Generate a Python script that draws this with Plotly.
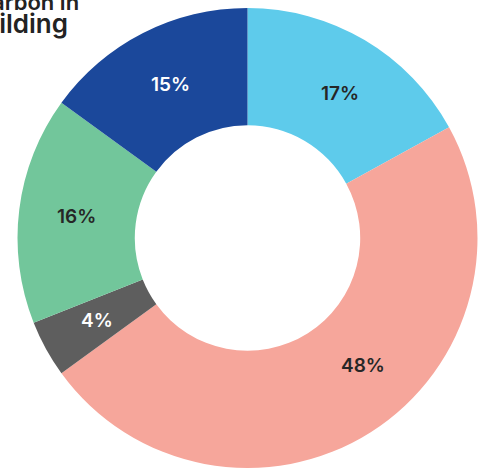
import math
import plotly.graph_objects as go

labels = ["A", "B", "C", "D", "E"]
values = [17, 48, 4, 16, 15]
colors = ["#5ECBEB", "#F6A69B", "#5E5E5E", "#72C69B", "#1B489B"]
text_colors = ["#262626", "#262626", "#FFFFFF", "#262626", "#FFFFFF"]
title_lines = ["Embodied", "carbon in", "building"]

W, H = 482, 471
CX, CY, R_OUT = 247.5, 238.0, 230.0
R_LABEL = 172.0
label_angle_shift = [2.0, -10.0, 0.0, 0.0, 0.5]  # degrees, label placement tweak

fig = go.Figure(go.Pie(
    labels=labels,
    values=values,
    hole=0.49,
    sort=False,
    direction="clockwise",
    rotation=0,
    marker=dict(colors=colors, line=dict(width=0)),
    textinfo="none",
    hoverinfo="label+value",
    showlegend=False,
    domain=dict(x=[(CX - R_OUT) / W, (CX + R_OUT) / W],
                y=[1 - (CY + R_OUT) / H, 1 - (CY - R_OUT) / H]),
))

total = sum(values)
cum = 0.0
for v, tc, sh in zip(values, text_colors, label_angle_shift):
    mid = (cum + v / 2) / total * 360 + sh
    cum += v
    a = math.radians(mid)
    px = CX + R_LABEL * math.sin(a)
    py = CY - R_LABEL * math.cos(a)
    fig.add_annotation(
        text=f"{v}%", xref="paper", yref="paper",
        x=px / W, y=1 - py / H, xanchor="center", yanchor="middle",
        showarrow=False,
        font=dict(family="Inter, Roboto, sans-serif", size=19, color=tc, weight=600),
    )

# title lines (partially outside the visible page), right edges as in the reference
baselines = [-14, 8, 32]
right_edges = [90, 81, 70]
title_sizes = [22, 22, 26]
for line, b, r, s in zip(title_lines, baselines, right_edges, title_sizes):
    fig.add_annotation(
        text=line, xref="paper", yref="paper",
        x=r / W, y=1 - (b + 9) / H,
        xanchor="right", yanchor="bottom",
        showarrow=False,
        font=dict(family="Inter, Roboto, sans-serif", size=s, color="#232323", weight=600),
    )

fig.update_layout(
    width=W, height=H,
    margin=dict(l=0, r=0, t=0, b=0),
    paper_bgcolor="white",
    plot_bgcolor="white",
)

fig.write_html("out.html")
